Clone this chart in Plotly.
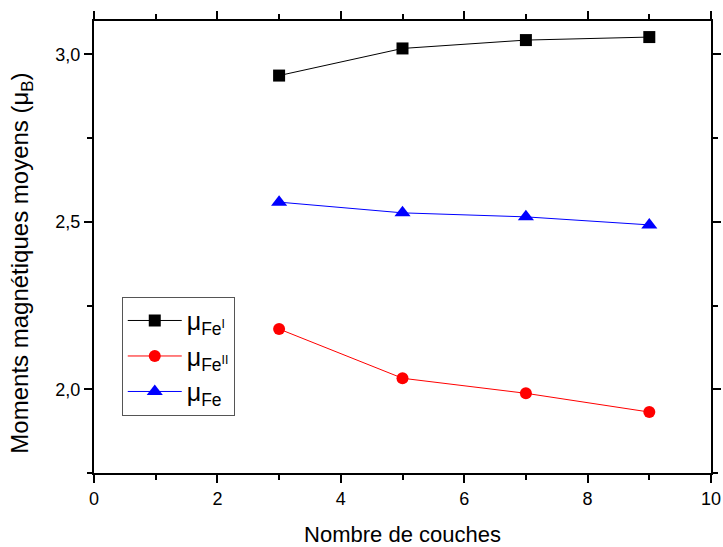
import plotly.graph_objects as go

x_couches = [3, 5, 7, 9]
mu_fe1 = [2.937, 3.018, 3.043, 3.052]
mu_fe2 = [2.180, 2.033, 1.988, 1.932]
mu_fe = [2.559, 2.527, 2.515, 2.491]

names = ["μ<sub>Fe<sup>I</sup></sub>", "μ<sub>Fe<sup>II</sup></sub>", "μ<sub>Fe</sub>"]
colors = ["#000000", "#ff0000", "#0000ff"]
symbols = ["square", "circle", "triangle-up"]
series = [mu_fe1, mu_fe2, mu_fe]

fig = go.Figure()
for ys, nm, c, s in zip(series, names, colors, symbols):
    fig.add_trace(go.Scatter(
        x=x_couches, y=ys, name=nm, mode="lines+markers",
        line=dict(color=c, width=1),
        marker=dict(symbol=s, size=12 if s != "triangle-up" else 14, color=c),
    ))

font = "Liberation Sans, Arial, sans-serif"
fig.update_layout(
    width=723, height=547,
    margin=dict(l=94, r=12, t=21, b=74),
    plot_bgcolor="white", paper_bgcolor="white",
    font=dict(family=font, size=18, color="black"),
    showlegend=True,
    legend=dict(
        x=0.045, y=0.39, xanchor="left", yanchor="top",
        bordercolor="#555555", borderwidth=1,
        font=dict(size=25, family=font),
        itemwidth=54,
        bgcolor="white",
    ),
    annotations=[dict(
        text="Moments magnétiques moyens (μ<sub>B</sub>)",
        xref="paper", yref="paper", x=-0.117, y=0.465,
        xanchor="center", yanchor="middle", textangle=-90,
        showarrow=False, font=dict(size=24, family=font, color="black"),
    )],
)
fig.update_xaxes(
    range=[0, 10], dtick=2, tick0=0, automargin=False,
    showline=True, linecolor="black", linewidth=2, mirror="allticks",
    ticks="outside", ticklen=8, tickwidth=2, tickcolor="black",
    minor=dict(dtick=1, tick0=0, ticks="outside", ticklen=5, tickwidth=2, tickcolor="black"),
    showgrid=False, zeroline=False,
    tickfont=dict(size=18),
    title=dict(text="Nombre de couches", font=dict(size=22), standoff=20),
)
fig.update_yaxes(
    range=[1.75, 3.1], automargin=False,
    tickvals=[2.0, 2.5, 3.0], ticktext=["2,0", "2,5", "3,0"],
    showline=True, linecolor="black", linewidth=2, mirror="allticks",
    ticks="outside", ticklen=8, tickwidth=2, tickcolor="black",
    minor=dict(tickvals=[1.75, 2.25, 2.75], ticks="outside", ticklen=5, tickwidth=2, tickcolor="black"),
    showgrid=False, zeroline=False,
    tickfont=dict(size=18),
)
fig.write_html("out.html", config={"displayModeBar": False},
               post_script="document.body.style.margin='0';document.body.style.overflow='hidden';")
